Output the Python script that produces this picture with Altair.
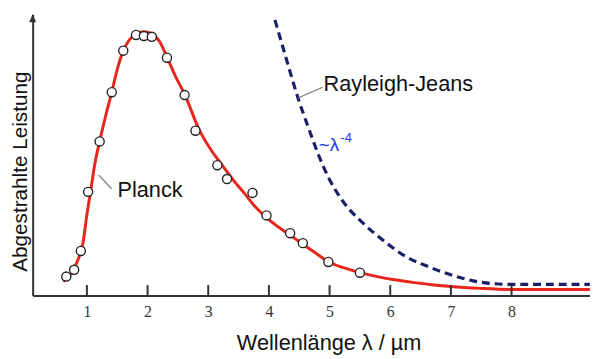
import altair as alt
import pandas as pd

# Planck curve
planck_lambda = [0.61, 0.76, 0.87, 0.935, 1.0, 1.065, 1.13, 1.21, 1.31, 1.41,
                 1.50, 1.60, 1.70, 1.81, 1.94, 2.07, 2.20, 2.33, 2.46, 2.61,
                 2.85, 3.05, 3.23, 3.41, 3.59, 3.76, 3.94, 4.14, 4.33, 4.56,
                 4.77, 4.98, 5.23, 5.49, 5.75, 6.07, 6.40, 6.72, 7.0, 7.49,
                 8.0, 9.29]
planck_value = [5.3, 9.1, 14.7, 20.0, 30.9, 40.4, 50.2, 58.9, 68.7, 77.7,
                86.4, 93.6, 97.7, 100.0, 100.8, 100.0, 97.0, 90.6, 83.8, 77.0,
                63.4, 55.5, 49.8, 44.2, 39.2, 34.3, 30.2, 26.4, 23.4, 19.6,
                16.2, 12.9, 10.6, 8.8, 7.4, 6.0, 4.9, 4.0, 3.4, 2.7,
                2.3, 2.3]

# Rayleigh-Jeans curve
rj_lambda = [4.10, 4.285, 4.48, 4.66, 4.82, 4.98, 5.21, 5.54, 5.86, 6.24,
             6.64, 7.05, 7.54, 8.0, 9.29]
rj_value = [105.3, 90.6, 75.5, 63.6, 53.6, 45.2, 36.3, 27.9, 21.5, 15.1,
            10.9, 7.5, 4.9, 4.2, 4.2]

# Measured points
meas_lambda = [0.66, 0.79, 0.90, 1.02, 1.21, 1.41, 1.60, 1.81, 1.94, 2.07,
               2.32, 2.61, 2.79, 3.15, 3.31, 3.73, 3.96, 4.35, 4.56, 4.98, 5.50]
meas_value = [7.2, 9.8, 17.0, 39.6, 58.9, 77.7, 93.6, 99.6, 99.2, 98.9,
              90.9, 76.6, 63.0, 49.8, 44.5, 39.2, 30.6, 23.8, 20.0, 12.8, 8.7]

tick_values = [1, 2, 3, 4, 5, 6, 7, 8]

# annotations
labels_text = ["Planck", "Rayleigh-Jeans"]
labels_x = [1.504, 4.902]
labels_y = [40.4, 80.8]
leader_x = [1.195, 4.48]
leader_y = [46.0, 75.5]
leader_x2 = [1.407, 4.886]
leader_y2 = [40.8, 79.6]

XMIN, XMAX = 0.106, 9.293
YMIN, YMAX = 0.0, 107.5
W, H = 565, 285

xs = alt.Scale(domain=[XMIN, XMAX], nice=False, zero=False)
ys = alt.Scale(domain=[YMIN, YMAX], nice=False, zero=False)

planck_df = pd.DataFrame({"l": planck_lambda, "v": planck_value})
rj_df = pd.DataFrame({"l": rj_lambda, "v": rj_value})
meas_df = pd.DataFrame({"l": meas_lambda, "v": meas_value})
tick_df = pd.DataFrame({"l": tick_values})
lab_df = pd.DataFrame({"text": labels_text, "l": labels_x, "v": labels_y})
lead_df = pd.DataFrame({"l": leader_x, "v": leader_y, "l2": leader_x2, "v2": leader_y2})

x_axis = alt.Axis(values=tick_values, ticks=False, grid=False, domain=True,
                  domainColor="#333333", domainWidth=2,
                  labelFont="Liberation Serif", labelFontSize=16, labelColor="#333333",
                  labelPadding=8, labelFlush=False,
                  title="Wellenlänge λ / µm", titleFont="Liberation Sans",
                  titleFontSize=22, titleFontWeight="normal", titleColor="#111111",
                  titleX=300, titleY=48, titleBaseline="middle", titleAlign="center")
y_axis = alt.Axis(ticks=False, labels=False, grid=False, domain=True,
                  domainColor="#333333", domainWidth=2,
                  title="Abgestrahlte Leistung", titleFont="Liberation Sans",
                  titleFontSize=21, titleFontWeight="normal", titleColor="#111111",
                  titleX=-12, titleY=159, titleBaseline="middle", titleAlign="center",
                  titleAngle=270)

X = alt.X("l:Q", scale=xs, axis=x_axis)
Y = alt.Y("v:Q", scale=ys, axis=y_axis)

planck = alt.Chart(planck_df).mark_line(color="#e8261c", strokeWidth=3,
                                        interpolate="monotone").encode(x=X, y=Y)

rj = alt.Chart(rj_df).mark_line(color="#1b1f66", strokeWidth=3.2, strokeDash=[8, 5],
                                interpolate="monotone").encode(x=X, y=Y)

pts = alt.Chart(meas_df).mark_point(shape="circle", filled=True, fill="white",
                                    stroke="#222222", strokeWidth=1.4, size=85,
                                    opacity=1).encode(x=X, y=Y)

ticks = alt.Chart(tick_df).mark_rule(color="#333333", strokeWidth=2).encode(
    x=X,
    y=alt.value(H - 10.5),
    y2=alt.value(H),
)

leaders = alt.Chart(lead_df).mark_rule(color="#777777", strokeWidth=1.2).encode(
    x=X, y=Y, x2="l2:Q", y2="v2:Q",
)

labels = alt.Chart(lab_df).mark_text(font="Liberation Sans", fontSize=22,
                                     color="#111111", align="left",
                                     baseline="middle").encode(
    x=X, y=Y, text="text:N",
)

lam_df = pd.DataFrame({"text": ["~λ"], "l": [4.822], "v": [57.5]})
lam = alt.Chart(lam_df).mark_text(font="Liberation Sans", fontSize=19,
                                  color="#2233ee", align="left",
                                  baseline="middle").encode(
    x=X, y=Y, text="text:N",
)
sup_df = pd.DataFrame({"text": ["-4"], "l": [5.18], "v": [60.2]})
sup = alt.Chart(sup_df).mark_text(font="Liberation Sans", fontSize=13,
                                  color="#2233ee", align="left",
                                  baseline="middle").encode(
    x=X, y=Y, text="text:N",
)

arrow = alt.Chart(pd.DataFrame({"a": [0]})).mark_point(
    shape="M0,-1L0.9,1L-0.9,1Z", filled=True, color="#333333", size=64, opacity=1
).encode(x=alt.value(0), y=alt.value(4))

chart = alt.layer(planck, rj, pts, ticks, leaders, labels, lam, sup, arrow).properties(
    width=W, height=H,
    background="white",
    autosize=alt.AutoSizeParams(type="none"),
    padding={"left": 25, "top": 4, "right": 0, "bottom": 58},
).configure_view(stroke=None)

chart.save("out.html", embed_options={"renderer": "svg", "actions": False})
